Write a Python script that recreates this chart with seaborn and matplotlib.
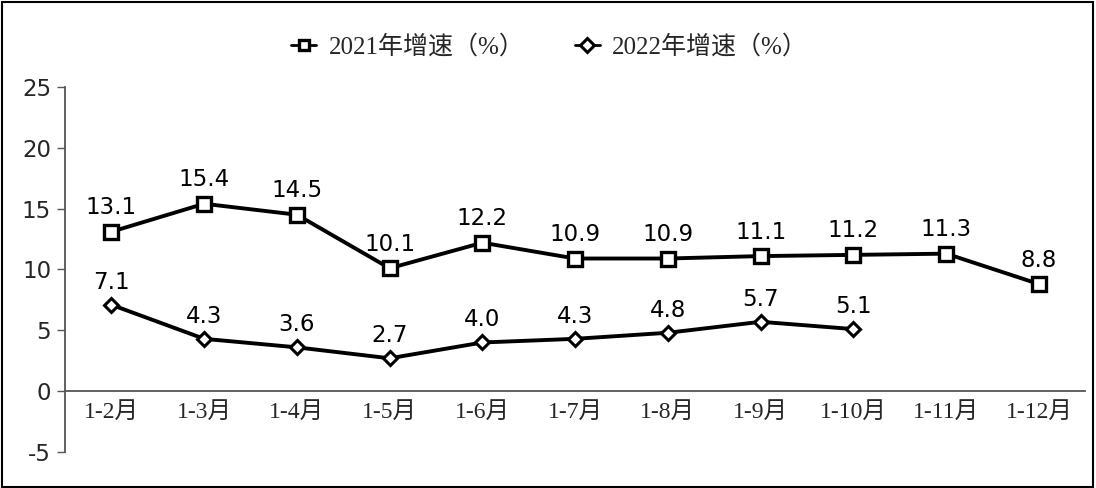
import matplotlib
matplotlib.use("Agg")
import matplotlib.pyplot as plt
import seaborn as sns
import pandas as pd
from matplotlib.patches import Rectangle

categories = ["1-2月", "1-3月", "1-4月", "1-5月", "1-6月", "1-7月", "1-8月", "1-9月", "1-10月", "1-11月", "1-12月"]
growth_2021 = [13.1, 15.4, 14.5, 10.1, 12.2, 10.9, 10.9, 11.1, 11.2, 11.3, 8.8]
growth_2022 = [7.1, 4.3, 3.6, 2.7, 4.0, 4.3, 4.8, 5.7, 5.1]
series_names = ["2021年增速（%）", "2022年增速（%）"]
y_ticks = [-5, 0, 5, 10, 15, 20, 25]

sns.set_theme(style="white")
plt.rcParams['font.family'] = ['DejaVu Sans', 'Noto Sans CJK SC']
serif_cjk = ['Liberation Serif', 'Noto Sans CJK SC']

df1 = pd.DataFrame({"x": list(range(len(growth_2021))), "v": growth_2021})
df2 = pd.DataFrame({"x": list(range(len(growth_2022))), "v": growth_2022})

fig = plt.figure(figsize=(10.96, 4.88), dpi=100)
ax = fig.add_axes([0.0593, 0.0738, 0.931, 0.748])

sns.lineplot(data=df1, x="x", y="v", ax=ax, color="black", linewidth=2.8,
             marker="s", markersize=10, markerfacecolor="white",
             markeredgecolor="black", markeredgewidth=2.4, label=series_names[0])
sns.lineplot(data=df2, x="x", y="v", ax=ax, color="black", linewidth=2.8,
             marker="D", markersize=7, markerfacecolor="white",
             markeredgecolor="black", markeredgewidth=2.2, label=series_names[1])

for xi, v in zip(df1["x"], df1["v"]):
    ax.annotate(f"{v:.1f}", (xi, v), xytext=(0, 9), textcoords="offset points",
                ha="center", va="bottom", fontsize=16.5, color="black")
for xi, v in zip(df2["x"], df2["v"]):
    ax.annotate(f"{v:.1f}", (xi, v), xytext=(0, 8), textcoords="offset points",
                ha="center", va="bottom", fontsize=16.5, color="black")

for s in ["top", "right"]:
    ax.spines[s].set_visible(False)
ax.spines["bottom"].set_position(("data", 0))
ax.spines["bottom"].set_color("#555555")
ax.spines["bottom"].set_linewidth(1.3)
ax.spines["left"].set_color("#555555")
ax.spines["left"].set_linewidth(1.3)

ax.set_xlim(-0.5, len(categories) - 0.5)
ax.set_ylim(-5, 25)
ax.set_yticks(y_ticks)
ax.set_yticklabels([str(t) for t in y_ticks], fontsize=16.5)
ax.set_xticks(range(len(categories)))
ax.set_xticklabels(categories, fontsize=17, family=serif_cjk)
ax.set_xlabel("")
ax.set_ylabel("")

ax.tick_params(axis="x", length=0, pad=8)
ax.tick_params(axis="y", length=6, width=1.0, color="#555555", left=True, pad=4)
ax.grid(False)

leg = ax.legend(loc="center", bbox_to_anchor=(0.475, 1.11), ncol=2, frameon=False,
                prop={'family': serif_cjk, 'size': 18},
                handlelength=1.0, columnspacing=2.0, handletextpad=0.5)
for h in leg.legend_handles:
    h.set_linewidth(2.0)
    h.set_markersize(7)

fig.patches.append(Rectangle((0.002, 0.003), 0.995, 0.993, transform=fig.transFigure,
                             fill=False, edgecolor="black", linewidth=1.5))

fig.savefig("out.png", dpi=100)
